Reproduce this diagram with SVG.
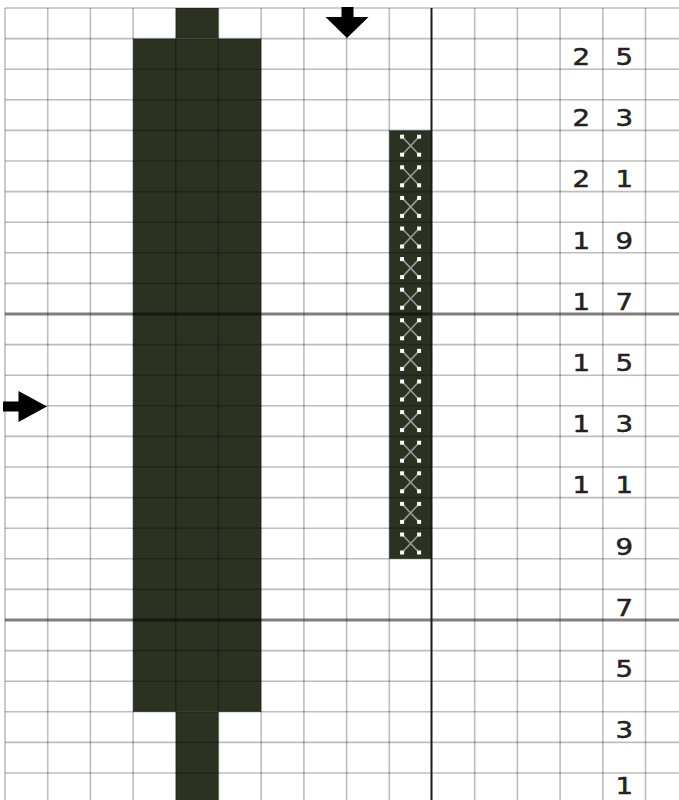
<svg xmlns="http://www.w3.org/2000/svg" xmlns:xlink="http://www.w3.org/1999/xlink" width="679" height="800" viewBox="0 0 679 800">
<style>
.fill{fill:#2c3222}
.grid line{stroke:#000;stroke-opacity:0.26;stroke-width:1.6}
.heavy{stroke:#000;stroke-opacity:0.5;stroke-width:3}
.center{stroke:#1a1a1a;stroke-width:2}
.arrow{fill:#000}
.num{font-family:"DejaVu Sans","Liberation Sans",sans-serif;font-size:23px;fill:#222;stroke:#222;stroke-width:0.5;text-anchor:middle}
</style>
<defs>
<g id="xs">
<line x1="-8.5" y1="-9" x2="8.5" y2="9" stroke="#9a9a9a" stroke-width="1.6"/>
<line x1="-8.5" y1="9" x2="8.5" y2="-9" stroke="#9a9a9a" stroke-width="1.6"/>
<rect x="-10.5" y="-11" width="4" height="4" fill="#fff"/>
<rect x="6.5" y="-11" width="4" height="4" fill="#fff"/>
<rect x="-10.5" y="7" width="4" height="4" fill="#fff"/>
<rect x="6.5" y="7" width="4" height="4" fill="#fff"/>
</g>
</defs>
<rect width="679" height="800" fill="#fff"/>
<g id="stitches">
<rect class="fill" x="175.8" y="8" width="42.7" height="30.6"/>
<rect class="fill" x="133.1" y="38.6" width="128.1" height="673.2"/>
<rect class="fill" x="175.8" y="711.8" width="42.7" height="88.2"/>
<rect class="fill" x="389.3" y="130.4" width="42.7" height="428.4"/>
</g>
<g id="xmarks">
<use xlink:href="#xs" x="410.6" y="145.7"/>
<use xlink:href="#xs" x="410.6" y="176.3"/>
<use xlink:href="#xs" x="410.6" y="206.9"/>
<use xlink:href="#xs" x="410.6" y="237.5"/>
<use xlink:href="#xs" x="410.6" y="268.1"/>
<use xlink:href="#xs" x="410.6" y="298.7"/>
<use xlink:href="#xs" x="410.6" y="329.3"/>
<use xlink:href="#xs" x="410.6" y="359.9"/>
<use xlink:href="#xs" x="410.6" y="390.5"/>
<use xlink:href="#xs" x="410.6" y="421.1"/>
<use xlink:href="#xs" x="410.6" y="451.7"/>
<use xlink:href="#xs" x="410.6" y="482.3"/>
<use xlink:href="#xs" x="410.6" y="512.9"/>
<use xlink:href="#xs" x="410.6" y="543.5"/>
</g>
<g id="grid" class="grid">
<line x1="5" y1="8" x2="5" y2="800"/>
<line x1="47.7" y1="8" x2="47.7" y2="800"/>
<line x1="90.4" y1="8" x2="90.4" y2="800"/>
<line x1="133.1" y1="8" x2="133.1" y2="800"/>
<line x1="175.8" y1="8" x2="175.8" y2="800"/>
<line x1="218.5" y1="8" x2="218.5" y2="800"/>
<line x1="261.2" y1="8" x2="261.2" y2="800"/>
<line x1="303.9" y1="8" x2="303.9" y2="800"/>
<line x1="346.6" y1="8" x2="346.6" y2="800"/>
<line x1="389.3" y1="8" x2="389.3" y2="800"/>
<line x1="474.7" y1="8" x2="474.7" y2="800"/>
<line x1="517.4" y1="8" x2="517.4" y2="800"/>
<line x1="560.1" y1="8" x2="560.1" y2="800"/>
<line x1="602.8" y1="8" x2="602.8" y2="800"/>
<line x1="645.5" y1="8" x2="645.5" y2="800"/>
<line x1="5" y1="8" x2="679" y2="8"/>
<line x1="5" y1="38.6" x2="679" y2="38.6"/>
<line x1="5" y1="69.2" x2="679" y2="69.2"/>
<line x1="5" y1="99.8" x2="679" y2="99.8"/>
<line x1="5" y1="130.4" x2="679" y2="130.4"/>
<line x1="5" y1="161" x2="679" y2="161"/>
<line x1="5" y1="191.6" x2="679" y2="191.6"/>
<line x1="5" y1="222.2" x2="679" y2="222.2"/>
<line x1="5" y1="252.8" x2="679" y2="252.8"/>
<line x1="5" y1="283.4" x2="679" y2="283.4"/>
<line x1="5" y1="344.6" x2="679" y2="344.6"/>
<line x1="5" y1="375.2" x2="679" y2="375.2"/>
<line x1="5" y1="405.8" x2="679" y2="405.8"/>
<line x1="5" y1="436.4" x2="679" y2="436.4"/>
<line x1="5" y1="467" x2="679" y2="467"/>
<line x1="5" y1="497.6" x2="679" y2="497.6"/>
<line x1="5" y1="528.2" x2="679" y2="528.2"/>
<line x1="5" y1="558.8" x2="679" y2="558.8"/>
<line x1="5" y1="589.4" x2="679" y2="589.4"/>
<line x1="5" y1="650.6" x2="679" y2="650.6"/>
<line x1="5" y1="681.2" x2="679" y2="681.2"/>
<line x1="5" y1="711.8" x2="679" y2="711.8"/>
<line x1="5" y1="742.4" x2="679" y2="742.4"/>
<line x1="5" y1="773" x2="679" y2="773"/>
</g>
<g id="centerlines">
<line class="heavy" x1="5" y1="314" x2="679" y2="314"/>
<line class="heavy" x1="5" y1="620" x2="679" y2="620"/>
<line class="center" x1="431.5" y1="8" x2="431.5" y2="800"/>
</g>
<g id="arrows">
<polygon class="arrow" points="341.5,7 353.5,7 353.5,17 368.5,17 347,38 325.5,17 341.5,17"/>
<polygon class="arrow" points="3,401.5 18.5,401.5 18.5,391 47,406.5 18.5,422 18.5,411.5 3,411.5"/>
</g>
<g id="labels" transform="scale(1.2,1)">
<text class="num" x="484.5" y="65">2</text><text class="num" x="520.2" y="65">5</text>
<text class="num" x="484.5" y="126.2">2</text><text class="num" x="520.2" y="126.2">3</text>
<text class="num" x="484.5" y="187.4">2</text><text class="num" x="520.2" y="187.4">1</text>
<text class="num" x="484.5" y="248.6">1</text><text class="num" x="520.2" y="248.6">9</text>
<text class="num" x="484.5" y="309.8">1</text><text class="num" x="520.2" y="309.8">7</text>
<text class="num" x="484.5" y="371">1</text><text class="num" x="520.2" y="371">5</text>
<text class="num" x="484.5" y="432.2">1</text><text class="num" x="520.2" y="432.2">3</text>
<text class="num" x="484.5" y="493.4">1</text><text class="num" x="520.2" y="493.4">1</text>
<text class="num" x="520.2" y="554.6">9</text>
<text class="num" x="520.2" y="615.8">7</text>
<text class="num" x="520.2" y="677">5</text>
<text class="num" x="520.2" y="738.2">3</text>
<text class="num" x="520.2" y="794">1</text>
</g>
</svg>
